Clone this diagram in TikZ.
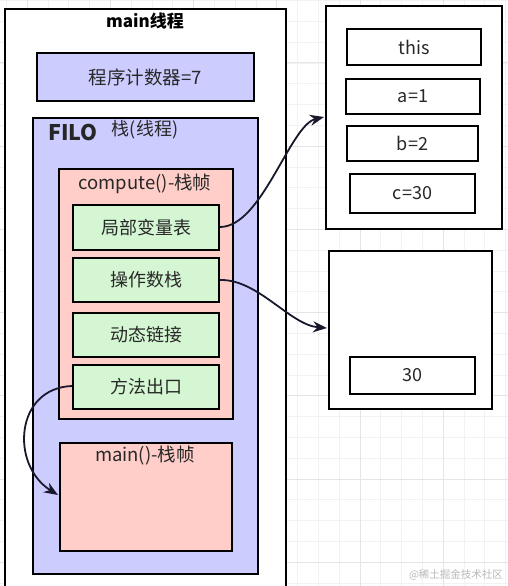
\documentclass[tikz,border=0pt]{standalone}
\usepackage{fontspec}
\setmainfont{Noto Sans CJK SC}
\usetikzlibrary{arrows.meta}
\definecolor{lav}{RGB}{204,204,255}
\definecolor{pinkf}{RGB}{255,206,200}
\definecolor{greenf}{RGB}{212,246,210}
\definecolor{txt}{RGB}{40,40,40}
\definecolor{arr}{RGB}{25,25,45}
\tikzset{
  box/.style={draw=black, line width=2pt, anchor=north west, inner sep=0pt},
  lavbox/.style={box, fill=lav},
  pinkbox/.style={box, fill=pinkf},
  greenbox/.style={box, fill=greenf, font=\fontsize{18}{20}\selectfont, text=txt},
  whitebox/.style={box, fill=white, font=\fontsize{18}{20}\selectfont, text=txt},
  lbl/.style={font=\fontsize{18}{20}\selectfont, text=txt, inner sep=0pt},
  conn/.style={draw=arr, line width=1.8pt, -{Stealth[length=14pt,width=11pt]}},
}
\begin{document}
\begin{tikzpicture}[x=1pt,y=-1pt]
\useasboundingbox (0,0) rectangle (508,586);
\fill[white] (0,0) rectangle (508,586);
% background grid
\foreach \i in {-17,...,7} {
  \draw[gray!10, line width=0.8pt] (360+\i*20.8,0) -- (360+\i*20.8,586);
}
\foreach \i in {-23,...,5} {
  \draw[gray!10, line width=0.8pt] (0,479+\i*20.8) -- (508,479+\i*20.8);
}
\foreach \i in {-4,...,1} {
  \draw[gray!20, line width=1pt] (360+\i*83.2,0) -- (360+\i*83.2,586);
}
\foreach \i in {-5,...,1} {
  \draw[gray!20, line width=1pt] (0,479+\i*83.2) -- (508,479+\i*83.2);
}
% main thread
\node[box, fill=white, minimum width=281pt, minimum height=600pt] (main) at (4,8) {};
\node[lbl, font=\fontsize{17}{19}\selectfont\bfseries, text=black] (maintitle) at (145,21) {main线程};
\node[lavbox, minimum width=217pt, minimum height=48pt, font=\fontsize{18.5}{20}\selectfont, text=txt] (pc) at (36,52) {程序计数器=7};
% stack
\node[lavbox, minimum width=225pt, minimum height=456pt] (stack) at (32,117) {};
\node[lbl, font=\fontsize{21.5}{23}\selectfont\bfseries, text=black!85] (filo) at (73,133) {FILO};
\node[lbl] (stacktitle) at (145,130) {栈(线程)};
% compute frame
\node[pinkbox, minimum width=174pt, minimum height=250pt] (comp) at (58,168) {};
\node[lbl, font=\fontsize{18.5}{20}\selectfont] (comptitle) at (145,184) {compute()-栈帧};
\node[greenbox, minimum width=146pt, minimum height=45pt] (g1) at (72,204) {局部变量表};
\node[greenbox, minimum width=146pt, minimum height=44pt] (g2) at (72,257) {操作数栈};
\node[greenbox, minimum width=146pt, minimum height=44pt] (g3) at (72,312) {动态链接};
\node[greenbox, minimum width=146pt, minimum height=44pt] (g4) at (72,364) {方法出口};
% main frame
\node[pinkbox, minimum width=172pt, minimum height=108pt] (mframe) at (59,442) {};
\node[lbl, font=\fontsize{18.5}{20}\selectfont] (mtitle) at (145,456) {main()-栈帧};
% local variable table
\node[box, fill=white, minimum width=176pt, minimum height=223pt] (A) at (325,5) {};
\node[whitebox, minimum width=134pt, minimum height=36pt] (this) at (346,28) {this};
\node[whitebox, minimum width=134pt, minimum height=35pt] (a) at (345,78) {a=1};
\node[whitebox, minimum width=131pt, minimum height=35pt] (b) at (346,125) {b=2};
\node[whitebox, minimum width=125pt, minimum height=39pt] (c) at (349,173) {c=30};
% operand stack
\node[box, fill=white, minimum width=163pt, minimum height=158pt] (B) at (328,250) {};
\node[whitebox, minimum width=125pt, minimum height=37pt] (v30) at (349,356) {30};
% connectors
\coordinate (Ain) at (324,117);
\coordinate (Bin) at (327,328);
\coordinate (Min) at (58,495);
\draw[conn] (g1.east |- 0,227) .. controls (262,227) and (290,125) .. (Ain);
\draw[conn] (g2.east |- 0,280) .. controls (258,279) and (290,325) .. (Bin);
\draw[conn] (g4.west |- 0,386) .. controls (15,388) and (10,465) .. (Min);
% watermark
\node[lbl, font=\fontsize{10.5}{12}\selectfont, text=gray!55] (wm) at (456,575) {@稀土掘金技术社区};
\end{tikzpicture}
\end{document}
